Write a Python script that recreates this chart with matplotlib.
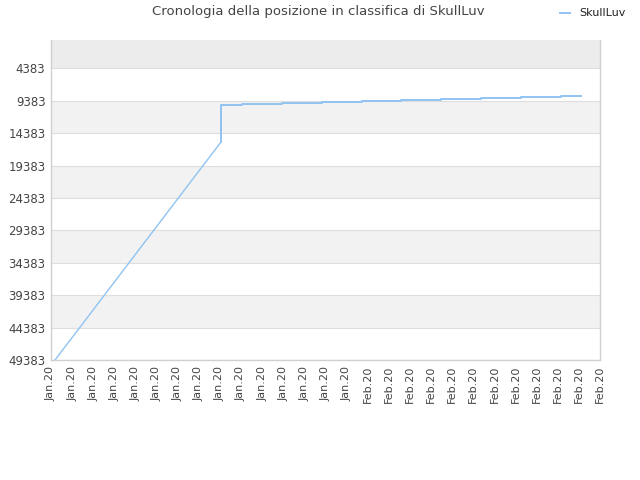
import matplotlib
matplotlib.use("Agg")
import matplotlib.pyplot as plt
from matplotlib.lines import Line2D

# ---- data ----
title = "Cronologia della posizione in classifica di SkullLuv"
series_name = "SkullLuv"
tick_labels = ["Jan.20"] * 15 + ["Feb.20"] * 12
y_ticks = [4383, 9383, 14383, 19383, 24383, 29383, 34383, 39383, 44383, 49383]

# linear climb part (time in tick units, rank)
climb_t = [0.19, 8.05]
climb_rank = [49383, 15741]

# stepwise part: time at which each level ends, and the level
step_t = [8.05, 9.05, 10.94, 12.83, 14.73, 16.58, 18.47, 20.36, 22.26, 24.15, 25.1]
step_rank = [15741, 10039, 9885, 9731, 9577, 9422, 9268, 9114, 8960, 8806, 8652]

line_color = "#90c3f3"

fig = plt.figure(figsize=(6.4, 4.8), dpi=100)
ax = fig.add_axes([51/640, 120/480, 549/640, 320/480])

ax.set_xlim(0, len(tick_labels) - 1)
ax.set_ylim(49383, 0)

# alternating bands
ax.axhspan(0, 4383, color="#ececec", zorder=0, lw=0)
bounds = y_ticks
for i in range(len(bounds) - 1):
    if i % 2 == 1:
        ax.axhspan(bounds[i], bounds[i + 1], color="#f2f2f2", zorder=0, lw=0)
for yv in y_ticks:
    ax.axhline(yv, color="#dedede", lw=0.8, zorder=1)

ax.plot(climb_t, climb_rank, color=line_color, lw=1.0, zorder=3)
ax.plot(step_t, step_rank, color=line_color, lw=1.4, drawstyle="steps-pre", zorder=3)

ax.set_yticks(y_ticks)
ax.set_yticklabels([str(v) for v in y_ticks], fontsize=8.5, color="#444444")
ax.set_xticks(range(len(tick_labels)))
ax.set_xticklabels(tick_labels, rotation=90, fontsize=8, color="#444444")
ax.tick_params(length=0, pad=4)

for s in ["left", "bottom", "right"]:
    ax.spines[s].set_color("#d0d0d0")
    ax.spines[s].set_linewidth(1)
ax.spines["top"].set_visible(False)

fig.text(318/640, 1 - 12/480, title, ha="center", va="center", fontsize=9.5, color="#444444")

# legend
fig.add_artist(Line2D([560/640, 570/640], [1 - 13/480, 1 - 13/480], color=line_color, lw=1.4, transform=fig.transFigure))
fig.text(579/640, 1 - 13/480, series_name, ha="left", va="center", fontsize=8, color="#222222")

fig.savefig("out.png", dpi=100)
